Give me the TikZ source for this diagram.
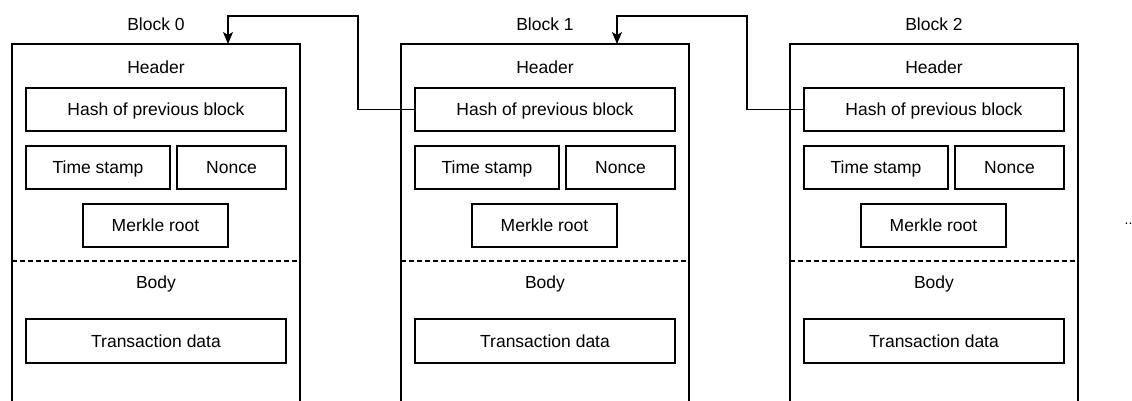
\documentclass[tikz,border=0pt]{standalone}
\usepackage{fontspec}
\setmainfont{Liberation Sans}
\usetikzlibrary{arrows.meta}
\begin{document}
\begin{tikzpicture}[x=1pt, y=-1pt, line width=1.1pt,
  font=\fontsize{17.5}{20}\selectfont,
  field/.style={draw, minimum height=43pt, text height=12.5pt, text depth=0pt, inner sep=0pt},
  caption/.style={text height=12.5pt, text depth=0pt, inner sep=0pt},
  link/.style={-{Stealth[length=12pt, width=10pt, inset=3pt]}, line width=1.1pt}]
\useasboundingbox (0,0) rectangle (1132,401);

% three blocks, each open at the bottom
\foreach \i/\o in {0/0, 1/389, 2/778}{
  \begin{scope}[xshift=\o pt]
    \coordinate (in\i) at (228,44);
    \coordinate (top\i) at (228,16);
    \draw (12,401) -- (12,44) -- (300,44) -- (300,401);
    \node[caption] (title\i) at (156,24.5) {Block \i};
    \node[caption] (head\i) at (156,67) {Header};
    \node[field, minimum width=260pt] (hash\i) at (156,109.5) {Hash of previous block};
    \node[field, minimum width=144pt] (time\i) at (98,167.5) {Time stamp};
    \node[field, minimum width=109pt] (nonce\i) at (231.5,167.5) {Nonce};
    \node[field, minimum width=145pt] (merkle\i) at (155.5,225.5) {Merkle root};
    \draw[dash pattern=on 4.5pt off 3.5pt] (12,261) -- (300,261);
    \node[caption] (body\i) at (156,282.5) {Body};
    \node[field, minimum width=260pt, minimum height=44pt] (tx\i) at (156,341) {Transaction data};
  \end{scope}
}

% hash links back to the previous block
\draw[link] (hash1.west) -| (358,16) -- (top0) -- (in0);
\draw[link] (hash2.west) -| (747,16) -- (top1) -- (in1);

% continuation marker
\node[font=\fontsize{14}{14}\selectfont, inner sep=0pt, anchor=base] (more) at (1128.5,224) {..};
\end{tikzpicture}
\end{document}
